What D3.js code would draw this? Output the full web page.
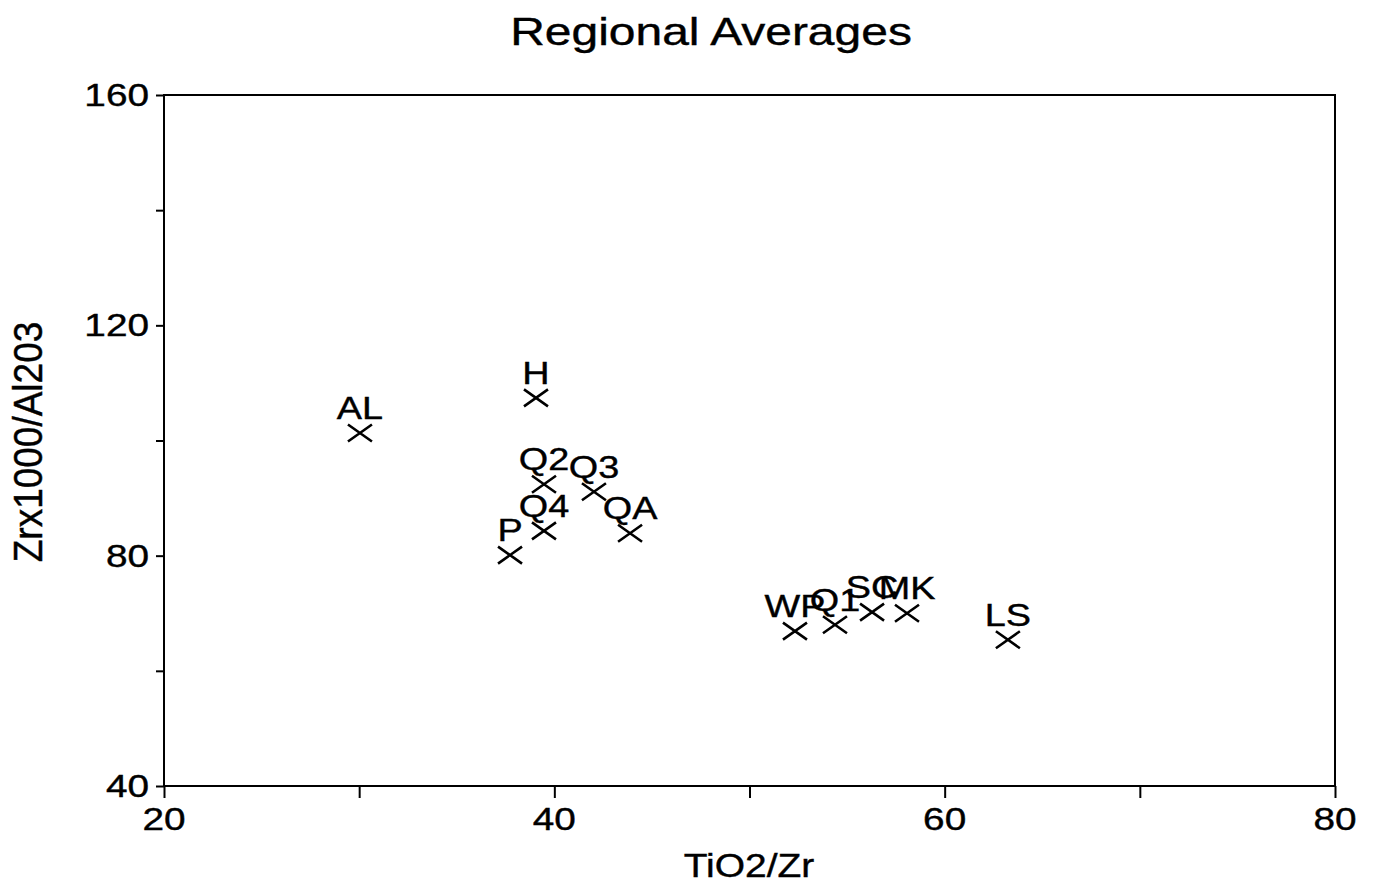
<!DOCTYPE html>
<html>
<head>
<meta charset="utf-8">
<script src="https://cdn.jsdelivr.net/npm/d3@7"></script>
<style>
  body { margin: 0; background: #fff; }
  text { font-family: "Liberation Sans", Arial, sans-serif; fill: #000; stroke: #000; stroke-width: 0.4px; }
</style>
</head>
<body>
<svg width="1374" height="886"></svg>
<script>
// Regional averages
var labels = ["AL", "H", "Q2", "Q3", "Q4", "QA", "P", "WP", "Q1", "SC", "MK", "LS"];
var tio2Zr = [30.04, 39.06, 39.47, 42.03, 39.47, 43.88, 37.73, 52.33, 54.38, 56.28, 58.07, 63.24];
var zrAl = [101.3, 107.4, 92.4, 91.1, 84.3, 83.9, 80.1, 66.9, 68.0, 70.2, 70.0, 65.4];
var xTicks = [20, 40, 60, 80];
var xMinor = [30, 50, 70];
var yTicks = [40, 80, 120, 160];
var yMinor = [60, 100, 140];

var svg = d3.select("svg"),
    width = +svg.attr("width"),
    height = +svg.attr("height");

var x = d3.scaleLinear().domain([20, 80]).range([164, 1335]);
var y = d3.scaleLinear().domain([40, 160]).range([786, 95]);

// the scan is a bit wider than tall, so text gets stretched sideways
var SX = 1.2;

function label(g, px, py, txt, size, anchor, sx) {
    return g.append("text")
        .attr("transform", "translate(" + px + "," + py + ") scale(" + (sx || SX) + ",1)")
        .attr("text-anchor", anchor || "middle")
        .style("font-size", size + "px")
        .text(txt);
}

// title
label(svg, 711, 45, "Regional Averages", 39, "middle", 1.23);

// box
svg.append("rect")
    .attr("x", x(20)).attr("y", y(160))
    .attr("width", x(80) - x(20)).attr("height", y(40) - y(160))
    .attr("fill", "none").attr("stroke", "#000").attr("stroke-width", 2);

// ticks
svg.append("g")
    .attr("transform", "translate(0," + y(40) + ")")
    .call(d3.axisBottom(x).tickValues(xTicks.concat(xMinor)).tickSize(12).tickFormat(""));
svg.append("g")
    .attr("transform", "translate(" + x(20) + ",0)")
    .call(d3.axisLeft(y).tickValues(yTicks.concat(yMinor)).tickSize(8).tickFormat(""));

svg.selectAll(".domain").remove();
svg.selectAll(".tick line").attr("stroke", "#000").attr("stroke-width", 2);

// tick labels
var tl = svg.append("g");
xTicks.forEach(function(t) {
    label(tl, x(t), 830, t, 31, "middle", 1.25);
});
yTicks.forEach(function(t) {
    label(tl, 149, y(t) + 11, t, 31, "end", 1.25);
});

// axis titles
label(svg, 749, 877, "TiO2/Zr", 33, "middle", 1.18);

svg.append("text")
    .attr("transform", "translate(42,442) rotate(-90) scale(1,1.1)")
    .attr("text-anchor", "middle")
    .style("font-size", "37px")
    .text("Zrx1000/Al203");

// points
var data = labels.map(function(d, i) {
    return { label: d, x: tio2Zr[i], y: zrAl[i] };
});

var pts = svg.append("g").selectAll("g")
    .data(data)
    .enter().append("g")
    .attr("transform", (d) => "translate(" + x(d.x) + "," + y(d.y) + ")");

pts.append("path")
    .attr("d", "M-12,-8.5L12,8.5M-12,8.5L12,-8.5")
    .attr("stroke", "#000")
    .attr("stroke-width", 2.6)
    .attr("fill", "none");

pts.each(function(d) {
    label(d3.select(this), 0, -14, d.label, 31.5, "middle");
});
</script>
</body>
</html>
